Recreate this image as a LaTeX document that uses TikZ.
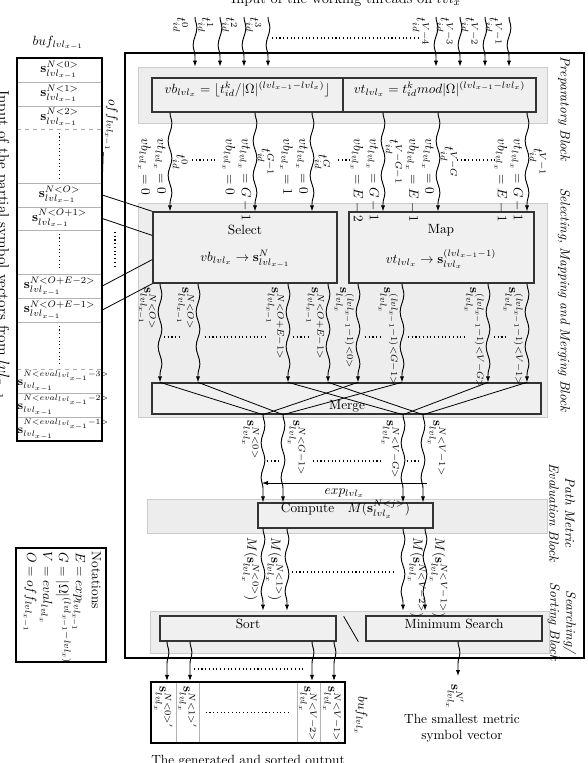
\documentclass[tikz,border=0pt]{standalone}
\usepackage{amsmath}
\usetikzlibrary{decorations.pathmorphing,arrows.meta,calc,fit}
\begin{document}
\begin{tikzpicture}[x=0.75pt,y=-0.75pt,
  blk/.style={draw=gray!40, fill=gray!14, line width=0.6pt, inner sep=0pt},
  bx/.style={draw=black!80, fill=gray!12, line width=1pt, inner sep=0pt},
  wv/.style={-{Latex[length=4.5pt,width=3.2pt]}, line width=0.7pt, decorate,
     decoration={snake, amplitude=1.4pt, segment length=26pt, post length=5pt}},
  rl/.style={rotate=-90, inner sep=0.5pt},
  dt/.style={dotted, line width=0.8pt},
  rowsep/.style={draw=gray!60, line width=0.7pt},
  rowsepd/.style={draw=gray!60, line width=0.7pt, dashed},
  ln/.style={line width=0.6pt},
  frm/.style={draw, inner sep=0pt},
  cell/.style={inner sep=0pt},
  celltxt/.style={inner sep=0pt},
  evtxt/.style={anchor=west, inner sep=0.5pt, font=\fontsize{8.6}{10}\selectfont},
]
\useasboundingbox (0,0) rectangle (587,763);

% titles
\node[anchor=base, font=\fontsize{11}{13}\selectfont] (title) at (346,3.5) {Input of the working threads on $lvl_x$};
\node[rotate=-90, anchor=base, font=\fontsize{11.5}{14}\selectfont] (ltitle) at (-1.5,245) {Input of the partial symbol vectors from $lvl_{x-1}$};

% gray blocks
\node[blk, fit={(138,67) (547,123)}] (prepg) {};
\node[blk, fit={(138,203) (547,417)}] (selg) {};
\node[blk, fit={(147,499) (547,533)}] (pmg) {};
\node[blk, fit={(150,611) (549,653)}] (srchg) {};

% main frame
\node[frm, line width=2.2pt, fit={(125,53) (584,658)}] (frame) {};

% block labels
\node[rl, font=\itshape, anchor=west] (lp) at (564,56) {Preparatory Block};
\node[rl, font=\itshape] (ls) at (564,300) {Selecting, Mapping and Merging Block};
\node[rl, font=\itshape, align=center] (lpm) at (562,513) {Path Metric\\Evaluation Block};
\node[rl, font=\itshape, align=center] (lsr) at (562,622) {Searching/\\Sorting Block};

% preparatory boxes
\node[bx, fit={(152,78) (343,112)}] (vbb) {$vb_{lvl_x}=\lfloor t_{id}^k/|\Omega|^{(lvl_{x-1}-lvl_x)}\rfloor$};
\node[bx, fit={(343,78) (536,112)}] (vtb) {$vt_{lvl_x}=t_{id}^k mod|\Omega|^{(lvl_{x-1}-lvl_x)}$};

% select / map
\node[bx, fit={(153,212) (337,283)}] (sel) {};
\node (selt) at (245,230) {Select};
\node (self) at (245,259) {$vb_{lvl_x}\rightarrow\mathbf{s}^{N}_{lvl_{x-1}}$};
\node[bx, fit={(349,212) (534,283)}] (map) {};
\node (mapt) at (441,230) {Map};
\node (mapf) at (441,259) {$vt_{lvl_x}\rightarrow\mathbf{s}_{lvl_x}^{(lvl_{x-1}-1)}$};

% merge
\node[bx, fit={(152,383) (541,414)}] (mrg) {};
\node (mrgt) at (347,406) {Merge};

% compute
\node[bx, fit={(258,503) (433,528)}] (comp) {Compute\quad$M(\mathbf{s}^{N<j>}_{lvl_x})$};

% sort / minimum search
\node[bx, fit={(160,616) (336,641)}] (sort) {Sort};
\node[bx, fit={(366,616) (542,641)}] (mins) {Minimum Search};
\draw[ln] ($(sort.north east)+(7,1)$) -- ($(mins.south west)+(-7,0)$);

% input buffer
\node (buflab) at (58,43) {$buf_{lvl_{x-1}}$};
\node[cell, fit={(17,58) (102,82)}] (r0) {};
\node[cell, fit={(17,82) (102,106)}] (r1) {};
\node[cell, fit={(17,106) (102,129)}] (r2) {};
\node[cell, fit={(17,129) (102,183)}] (g1) {};
\node[cell, fit={(17,183) (102,207)}] (rO) {};
\node[cell, fit={(17,207) (102,230)}] (rOa) {};
\node[cell, fit={(17,230) (102,274)}] (g2) {};
\node[cell, fit={(17,274) (102,298)}] (rEb) {};
\node[cell, fit={(17,298) (102,322)}] (rEa) {};
\node[cell, fit={(17,322) (102,369)}] (g3) {};
\node[cell, fit={(17,369) (102,393)}] (v3) {};
\node[cell, fit={(17,393) (102,417)}] (v2) {};
\node[cell, fit={(17,417) (102,441)}] (v1) {};
\node[celltxt] (r0t) at (r0.center) {$\mathbf{s}^{N<0>}_{lvl_{x-1}}$};
\node[celltxt] (r1t) at (r1.center) {$\mathbf{s}^{N<1>}_{lvl_{x-1}}$};
\node[celltxt] (r2t) at (r2.center) {$\mathbf{s}^{N<2>}_{lvl_{x-1}}$};
\node[celltxt] (rOt) at (rO.center) {$\mathbf{s}^{N<O>}_{lvl_{x-1}}$};
\node[celltxt] (rOat) at (rOa.center) {$\mathbf{s}^{N<O+1>}_{lvl_{x-1}}$};
\node[celltxt] (rEbt) at (rEb.center) {$\mathbf{s}^{N<O+E-2>}_{lvl_{x-1}}$};
\node[celltxt] (rEat) at (rEa.center) {$\mathbf{s}^{N<O+E-1>}_{lvl_{x-1}}$};
\node[evtxt] (v3t) at (v3.west) {$\mathbf{s}^{N<eval_{lvl_{x-1}}-3>}_{lvl_{x-1}}$};
\node[evtxt] (v2t) at (v2.west) {$\mathbf{s}^{N<eval_{lvl_{x-1}}-2>}_{lvl_{x-1}}$};
\node[evtxt] (v1t) at (v1.west) {$\mathbf{s}^{N<eval_{lvl_{x-1}}-1>}_{lvl_{x-1}}$};
\foreach \n in {r0,r1,g1,rO,rOa,g2,rEb,rEa,v3,v2}
  \draw[rowsep] (\n.south west) -- (\n.south east);
\foreach \n in {r2,g3}
  \draw[rowsepd] (\n.south west) -- (\n.south east);
\foreach \n in {g1,g2,g3}
  \draw[dt] ($(\n.north)+(0,4)$) -- ($(\n.south)+(0,-4)$);
\node[frm, line width=1.6pt, fit={(17,58) (102,441)}] (buf) {};

\node[rl, anchor=east] (offlab) at (111,152) {$off_{lvl_{x-1}}$};
\draw[ln] (rO.north east) -- (offlab.south east);

\draw[ln] (rO.east) -- (sel.north west);
\draw[ln] (rOa.east) -- ($(sel.north west)!1/3!(sel.south west)$);
\draw[ln] (rEb.east) -- ($(sel.north west)!2/3!(sel.south west)$);
\draw[ln] (rEa.east) -- (sel.south west);
\coordinate (vdA) at (115,232);
\coordinate (vdB) at (115,268);
\draw[dt] (vdA) -- (vdB);

% top inputs
\foreach \x/\qa in {195/0,220/1,244/2,268/3,436/V-4,460/V-3,485/V-2,509/V-1}{
  \coordinate (top\x) at (\x,17);
  \draw[wv] (top\x) -- (prepg.north -| top\x);
  \node[rl, anchor=north west] at (\x-6,17) {$t_{id}^{\qa}$};
}
\draw[dt] (272,38) -- (421,38);

% preparatory -> select/map
\foreach \x/\qs/\qd/\qa/\qb/\qc in {170/vbb/sel/0/0/0, 255/vbb/sel/G-1/G-1/0, 312/vbb/sel/G/0/1, 383/vtb/map/V-G-1/G-1/E-2, 438/vtb/map/V-G/0/E-1, 527/vtb/map/V-1/G-1/E-1}{
  \draw[wv] (\qs.south -| \x,0) -- (\qd.north -| \x,0);
  \node[rl, anchor=south] at (\x+2,162) {$t_{id}^{\qa}$};
  \node[rl, anchor=north west, align=left] at (\x-3,138) {$vt_{lvl_x}=\qb$\\$vb_{lvl_x}=\qc$};
}
\draw[dt] (192,160) -- (217,160);
\draw[dt] (338,160) -- (350,160);
\draw[dt] (457,160) -- (497,160);

% select/map -> merge
\foreach \x/\qs/\qa/\qb [count=\i] in {160/sel/{N<O>}/{lvl_{x-1}}, 198/sel/{N<O>}/{lvl_{x-1}}, 288/sel/{N<O+E-1>}/{lvl_{x-1}}, 328/sel/{N<O+E-1>}/{lvl_{x-1}}, 358/map/{(lvl_{x-1}-1)<0>}/{lvl_x}, 402/map/{(lvl_{x-1}-1)<G-1>}/{lvl_x}, 488/map/{(lvl_{x-1}-1)<V-G>}/{lvl_x}, 527/map/{(lvl_{x-1}-1)<V-1>}/{lvl_x}}{
  \coordinate (mt\i) at (mrg.north -| \x,0);
  \draw[wv] (\qs.south -| \x,0) -- (mt\i);
  \node[rl, anchor=north west] at (\x-3,287) {$\mathbf{s}^{\qa}_{\qb}$};
}
\draw[dt] (164,337) -- (180,337);
\draw[dt] (205,337) -- (265,337);
\draw[dt] (293,337) -- (310,337);
\draw[dt] (365,337) -- (382,337);
\draw[dt] (408,337) -- (467,337);
\draw[dt] (494,337) -- (506,337);

% merge crossings
\foreach \x [count=\j] in {263,283,403,423}
  \coordinate (mb\j) at (mrg.south -| \x,0);
\draw[ln] (mt1) -- (mb1);
\draw[ln] (mt2) -- (mb2);
\draw[ln] (mt3) -- (mb3);
\draw[ln] (mt4) -- (mb4);
\draw[ln] (mt5) -- (mb1);
\draw[ln] (mt6) -- (mb2);
\draw[ln] (mt7) -- (mb3);
\draw[ln] (mt8) -- (mb4);

% merge -> compute
\foreach \j in {1,...,4}
  \draw[wv] (mb\j) -- (comp.north -| mb\j);
\node[rl, anchor=north west] at (260,420) {$\mathbf{s}^{N<0>}_{lvl_x}$};
\node[rl, anchor=south west] at (287,420) {$\mathbf{s}^{N<G-1>}_{lvl_x}$};
\node[rl, anchor=north west] at (400,420) {$\mathbf{s}^{N<V-G>}_{lvl_x}$};
\node[rl, anchor=south west] at (427,420) {$\mathbf{s}^{N<V-1>}_{lvl_x}$};
\draw[dt] (267,461) -- (280,461);
\draw[dt] (313,461) -- (383,461);
\draw[dt] (407,461) -- (420,461);
\coordinate (expR) at (427,483);
\coordinate (expL) at (262,483);
\draw[-{Latex[length=4.5pt,width=3.2pt]}, ln] (expR) -- (expL) node[midway, below=0.5pt] {$exp_{lvl_x}$};

% compute -> sort
\foreach \x in {263,287,403,425}
  \draw[wv] (comp.south -| \x,0) -- (srchg.north -| \x,0);
\node[rl, anchor=north west] at (260,537) {$M(\mathbf{s}^{N<0>}_{lvl_x})$};
\node[rl, anchor=north west] at (284,537) {$M(\mathbf{s}^{N<1>}_{lvl_x})$};
\node[rl, anchor=south west] at (407,537) {$M(\mathbf{s}^{N<V-2>}_{lvl_x})$};
\node[rl, anchor=south west] at (429,537) {$M(\mathbf{s}^{N<V-1>}_{lvl_x})$};
\draw[dt] (292,572) -- (393,572);

% output buffer
\node[cell, fit={(151,682) (176,743)}] (c1) {};
\node[cell, fit={(176,682) (199,743)}] (c2) {};
\node[cell, fit={(199,682) (297,743)}] (c3) {};
\node[cell, fit={(297,682) (320,743)}] (c4) {};
\node[cell, fit={(320,682) (345,743)}] (c5) {};
\foreach \n in {c1,c2,c3,c4}
  \draw[rowsep] (\n.north east) -- (\n.south east);
\node[rl, anchor=west] at ($(c1.north)+(0,4)$) {$\mathbf{s}^{N<0>'}_{lvl_x}$};
\node[rl, anchor=west] at ($(c2.north)+(0,4)$) {$\mathbf{s}^{N<1>'}_{lvl_x}$};
\node[rl, anchor=west] at ($(c4.north)+(0,4)$) {$\mathbf{s}^{N<V-2>'}_{lvl_x}$};
\node[rl, anchor=west] at ($(c5.north)+(0,4)$) {$\mathbf{s}^{N<V-1>'}_{lvl_x}$};
\draw[dt] ($(c3.west)+(7,0)$) -- ($(c3.east)+(-9,0)$);
\node[frm, line width=1.6pt, fit={(151,682) (345,743)}] (bo) {};
\node[rl] (bolab) at (361,716) {$buf_{lvl_x}$};
\foreach \x in {167,190,312,334}
  \draw[wv] (sort.south -| \x,0) -- (bo.north -| \x,0);
\draw[dt] (194,669) -- (305,669);
\node[anchor=north] (botlab) at (248,751) {The generated and sorted output};

% minimum search output
\coordinate (smin) at (458,676);
\draw[wv] (mins.south -| smin) -- (smin);
\node[rl] (sminlab) at (455,697) {$\mathbf{s}^{N'}_{lvl_x}$};
\node[align=center] (smintxt) at (462,728) {The smallest metric\\symbol vector};

% notations
\node[frm, line width=0.8pt, fit={(16,548) (106,662)}] (notb) {};
\node[rl, anchor=north west] (nott) at (104,551) {\begin{tabular}{@{}r@{}l@{}}\multicolumn{2}{@{}l@{}}{Notations}\\$E$&${}=exp_{lvl_{x-1}}$\\$G$&${}=|\Omega|^{(lvl_{x-1}-lvl_x)}$\\$V$&${}=eval_{lvl_x}$\\$O$&${}=off_{lvl_{x-1}}$\end{tabular}};
\end{tikzpicture}
\end{document}
